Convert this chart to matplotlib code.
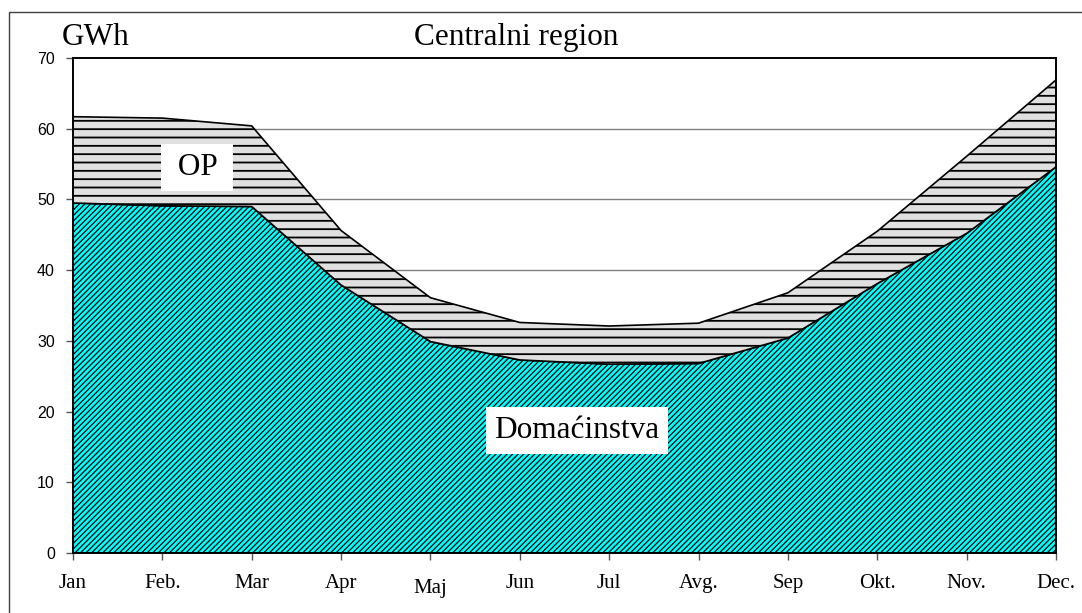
import numpy as np
import matplotlib
matplotlib.use('Agg')
import matplotlib.pyplot as plt
from matplotlib.patches import Rectangle
from matplotlib.transforms import ScaledTranslation

plt.rcParams['hatch.linewidth'] = 1.3

months = ['Jan', 'Feb.', 'Mar', 'Apr', 'Maj', 'Jun', 'Jul', 'Avg.', 'Sep', 'Okt.', 'Nov.', 'Dec.']
domacinstva = [49.5, 49.1, 49.0, 37.9, 29.9, 27.3, 26.7, 26.8, 30.4, 38.1, 45.2, 54.6]
op = [12.2, 12.4, 11.4, 7.7, 6.2, 5.3, 5.4, 5.7, 6.4, 7.4, 10.9, 12.3]
y_ticks = [0, 10, 20, 30, 40, 50, 60, 70]

serif = 'Liberation Serif'
sans = 'Liberation Sans'

x = np.arange(len(months))
dom = np.array(domacinstva)
total = dom + np.array(op)

fig = plt.figure(figsize=(10.82, 6.13), dpi=100)
ax = fig.add_axes([73 / 1082, 1 - 553 / 613, (1056 - 73) / 1082, (553 - 58) / 613])

# grid behind the areas
for yv in y_ticks[1:-1]:
    ax.axhline(yv, color='#808080', lw=1.0, zorder=0)

dom_area = ax.fill_between(x, 0, dom, facecolor='#00FFFF', edgecolor='black',
                           hatch='/' * 6, linewidth=1.2, zorder=2)
ax.fill_between(x, dom, total, facecolor='#E0E0E0', edgecolor='black', hatch='--',
                linewidth=1.2, zorder=2)

# thinner diagonal hatch only for the cyan area
diag_lw = 0.9
if hasattr(dom_area, '_hatch_linewidth'):
    dom_area._hatch_linewidth = diag_lw


def thin_hatch(draw):
    def wrapped(renderer):
        with plt.rc_context({'hatch.linewidth': diag_lw}):
            draw(renderer)
    return wrapped


dom_area.draw = thin_hatch(dom_area.draw)

ax.set_xlim(0, 11)
ax.set_ylim(0, 70)
ax.set_xticks(x)
ax.set_xticklabels(months, fontfamily=serif, fontsize=15)
ax.set_yticks(y_ticks)
ax.set_yticklabels([str(v) for v in y_ticks], fontfamily=sans, fontsize=11.5)
ax.tick_params(axis='x', direction='out', length=5, width=1, color='#555555', pad=10)
ax.tick_params(axis='y', direction='out', length=5, width=1, color='#555555', pad=8)
for s in ax.spines.values():
    s.set_linewidth(1.4)
    s.set_color('black')
    s.set_zorder(3)

# "Maj" sits a bit lower in the original
maj = ax.get_xticklabels()[4]
maj.set_transform(maj.get_transform() + ScaledTranslation(0, -5 / 100, fig.dpi_scale_trans))

ax.text(1.39, 54.5, ' OP ', fontfamily=serif, fontsize=22.5, ha='center', va='center',
        zorder=4, bbox=dict(boxstyle='square,pad=0.28', facecolor='white', edgecolor='none'))
ax.text(5.64, 17.3, 'Domaćinstva', fontfamily=serif, fontsize=22.5, ha='center', va='center',
        zorder=4, bbox=dict(boxstyle='square,pad=0.28', facecolor='white', edgecolor='none'))

fig.text(516 / 1082, 1 - 45 / 613, 'Centralni region', fontfamily=serif, fontsize=22.5,
         ha='center', va='baseline')
fig.text(62 / 1082, 1 - 45 / 613, 'GWh', fontfamily=serif, fontsize=22.5,
         ha='left', va='baseline')

# outer frame of the chart
fig.patches.append(Rectangle((9 / 1082, -0.01), 1.02, 1 - 12 / 613 + 0.01,
                             transform=fig.transFigure, fill=False,
                             edgecolor='#404040', lw=1.0))

fig.savefig('out.png', dpi=100)
